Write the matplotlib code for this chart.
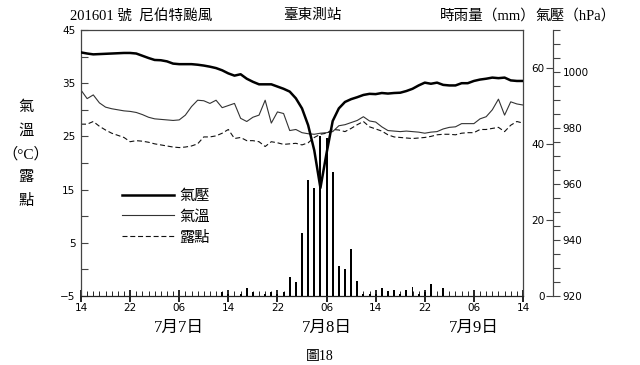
import numpy as np
import matplotlib
matplotlib.use('Agg')
import matplotlib.pyplot as plt
from matplotlib.ticker import MultipleLocator, FixedLocator
from matplotlib.lines import Line2D

# hours since 7/6 14:00
hours = list(range(73))
xtick_hours = list(range(0, 73, 8))
xtick_labels = ['14', '22', '06', '14', '22', '06', '14', '22', '06', '14']
day_labels = ['7月7日', '7月8日', '7月9日']
day_hours = [16, 40, 64]

pressure = [1007.0, 1006.6, 1006.3, 1006.4, 1006.5, 1006.6, 1006.7, 1006.8, 1006.8, 1006.6,
            1005.8, 1005.0, 1004.3, 1004.2, 1003.8, 1003.0, 1002.8, 1002.8, 1002.8, 1002.6,
            1002.3, 1001.9, 1001.4, 1000.6, 999.5, 998.7, 999.2, 997.6, 996.5, 995.6,
            995.6, 995.6, 994.8, 994.0, 993.0, 990.6, 987.0, 981.0, 972.0, 958.6,
            971.0, 982.5, 987.0, 989.3, 990.3, 991.0, 991.8, 992.2, 992.1, 992.5,
            992.3, 992.5, 992.6, 993.2, 994.0, 995.2, 996.2, 995.8, 996.2, 995.4,
            995.2, 995.2, 996.0, 996.0, 996.8, 997.3, 997.6, 998.0, 997.8, 998.0,
            997.0, 996.8, 996.8]

temperature = [33.7, 32.1, 32.8, 31.3, 30.5, 30.2, 30.0, 29.8, 29.7, 29.5,
               29.1, 28.6, 28.3, 28.2, 28.1, 28.0, 28.1, 29.0, 30.6, 31.8,
               31.7, 31.2, 31.8, 30.4, 30.8, 31.2, 28.4, 27.8, 28.6, 29.0,
               31.8, 27.5, 29.6, 29.3, 26.1, 26.3, 25.7, 25.5, 25.4, 25.6,
               25.7, 25.9, 27.0, 27.2, 27.6, 28.0, 28.7, 27.9, 27.7, 26.8,
               26.1, 26.0, 25.9, 26.0, 25.9, 25.8, 25.6, 25.8, 25.9, 26.4,
               26.7, 26.8, 27.4, 27.4, 27.4, 28.3, 28.7, 30.0, 32.0, 29.0,
               31.5, 31.1, 30.9]

dewpoint = [27.3, 27.3, 27.8, 26.9, 26.2, 25.6, 25.2, 24.8, 24.0, 24.2,
            24.1, 23.9, 23.6, 23.4, 23.2, 23.0, 22.9, 23.0, 23.2, 23.6,
            24.9, 24.9, 25.1, 25.6, 26.3, 24.6, 24.8, 24.2, 24.2, 24.0,
            23.1, 24.0, 23.8, 23.5, 23.6, 23.7, 23.4, 23.8, 24.8, 25.4,
            25.6, 26.3, 26.2, 25.9, 26.5, 27.2, 27.8, 26.8, 26.4, 26.0,
            25.3, 24.9, 24.8, 24.7, 24.6, 24.7, 24.8, 25.0, 25.3, 25.4,
            25.4, 25.3, 25.6, 25.7, 25.7, 26.3, 26.3, 26.5, 26.7, 25.9,
            27.1, 27.8, 27.5]

rain = [0, 0, 0, 0, 0, 0, 0, 0, 0, 0,
        0, 0, 0, 0, 0, 0, 0, 0, 0, 0,
        0, 0, 0, 1.0, 0.5, 0, 0.6, 2.2, 1.0, 0,
        0.5, 1.0, 0.5, 1.0, 5.1, 3.6, 16.6, 30.5, 28.5, 42.1,
        41.7, 32.7, 8.0, 7.0, 12.5, 4.0, 0.6, 0.6, 0.6, 2.0,
        1.3, 1.6, 0.5, 1.6, 2.5, 0.6, 1.0, 3.1, 0, 2.1,
        0, 0, 0, 0, 0, 0, 0, 0, 0, 0,
        0, 0, 0]

cjk = ['Liberation Serif', 'Noto Sans CJK TC']
num_font = 'DejaVu Sans'
edge = '#444444'

fig = plt.figure(figsize=(6.4, 3.65), dpi=100)
ax = fig.add_axes([81 / 640, 1 - 296 / 365, 442 / 640, 266 / 365])

ax.plot(hours, temperature, color='#333333', lw=0.8)
ax.plot(hours, dewpoint, color='#111111', lw=0.8, ls=(0, (4.5, 2.5)))
ax.set_xlim(0, 72)
ax.set_ylim(-5, 45)
ax.yaxis.set_major_locator(FixedLocator([-5, 5, 15, 25, 35, 45]))
ax.yaxis.set_minor_locator(MultipleLocator(5))
ax.xaxis.set_major_locator(FixedLocator(xtick_hours))
ax.xaxis.set_minor_locator(MultipleLocator(1))
ax.set_xticklabels(xtick_labels)
ax.tick_params(axis='y', which='both', direction='in', length=5, width=0.8,
               color=edge, labelsize=7.5, pad=4)
ax.tick_params(axis='x', which='major', direction='inout', length=8, width=1.4,
               color='#222222', labelsize=7.5, pad=1)
ax.tick_params(axis='x', which='minor', direction='in', length=3.5, width=0.7,
               color='#222222')
for s in ax.spines.values():
    s.set_color(edge)
    s.set_linewidth(0.9)
ax.spines['bottom'].set_color('#222222')
for lab in ax.get_xticklabels() + ax.get_yticklabels():
    lab.set_family(num_font)

# rainfall axis (labels on left of the outer spine)
ax_rain = ax.twinx()
ax_rain.bar(hours, rain, width=0.32, color='black', zorder=3)
ax_rain.set_ylim(0, 70)
ax_rain.set_xlim(0, 72)
for k in ['top', 'bottom', 'right']:
    ax_rain.spines[k].set_visible(False)
ax_rain.spines['left'].set_position(('axes', 1.068))
ax_rain.spines['left'].set_color(edge)
ax_rain.yaxis.set_ticks_position('left')
ax_rain.yaxis.set_label_position('left')
ax_rain.yaxis.set_major_locator(MultipleLocator(20))
ax_rain.tick_params(axis='y', direction='out', length=5, width=0.8, color=edge,
                    labelsize=7.5, pad=1)
for lab in ax_rain.get_yticklabels():
    lab.set_family(num_font)

# pressure axis
ax_p = ax.twinx()
ax_p.plot(hours, pressure, color='black', lw=1.8, zorder=4)
ax_p.set_ylim(920, 1015)
ax_p.set_xlim(0, 72)
for k in ['top', 'bottom', 'left']:
    ax_p.spines[k].set_visible(False)
ax_p.spines['right'].set_position(('axes', 1.068))
ax_p.spines['right'].set_color(edge)
ax_p.yaxis.set_major_locator(MultipleLocator(20))
ax_p.yaxis.set_minor_locator(MultipleLocator(5))
ax_p.tick_params(axis='y', which='both', direction='out', length=5, width=0.8,
                 color=edge, labelsize=7.5, pad=2)
for lab in ax_p.get_yticklabels():
    lab.set_family(num_font)

handles = [Line2D([], [], color='black', lw=1.8),
           Line2D([], [], color='#333333', lw=0.8),
           Line2D([], [], color='#111111', lw=0.8, ls=(0, (4.5, 2.5)))]
ax_p.legend(handles, ['氣壓', '氣溫', '露點'], loc='upper left',
            bbox_to_anchor=(0.075, 0.43), frameon=False, borderpad=0,
            handlelength=3.4, handletextpad=0.35, labelspacing=0.45,
            prop={'family': cjk, 'size': 11})

# titles
fig.text(70 / 640, 0.958, '201601 號  尼伯特颱風', family=cjk, fontsize=10.5, va='center')
fig.text(283 / 640, 0.958, '臺東測站', family=cjk, fontsize=10.5, va='center')
fig.text(440 / 640, 0.958, '時雨量（mm）', family=cjk, fontsize=10.5, va='center')
fig.text(535 / 640, 0.958, '氣壓（hPa）', family=cjk, fontsize=10.5, va='center')

# left vertical label
for i, ch in enumerate(['氣', '溫', '（°C）', '露', '點']):
    fig.text(26 / 640, 1 - (107 + 23.5 * i) / 365, ch, family=cjk, fontsize=11,
             ha='center', va='center')

for h, d in zip(day_hours, day_labels):
    xf = (81 + h * 442 / 72) / 640
    fig.text(xf, 1 - 328 / 365, d, family=cjk, fontsize=12, ha='center', va='center')

fig.text(0.5, 2 / 365, '圖18', family=cjk, fontsize=10, ha='center', va='bottom')

fig.savefig('out.png', dpi=100)
